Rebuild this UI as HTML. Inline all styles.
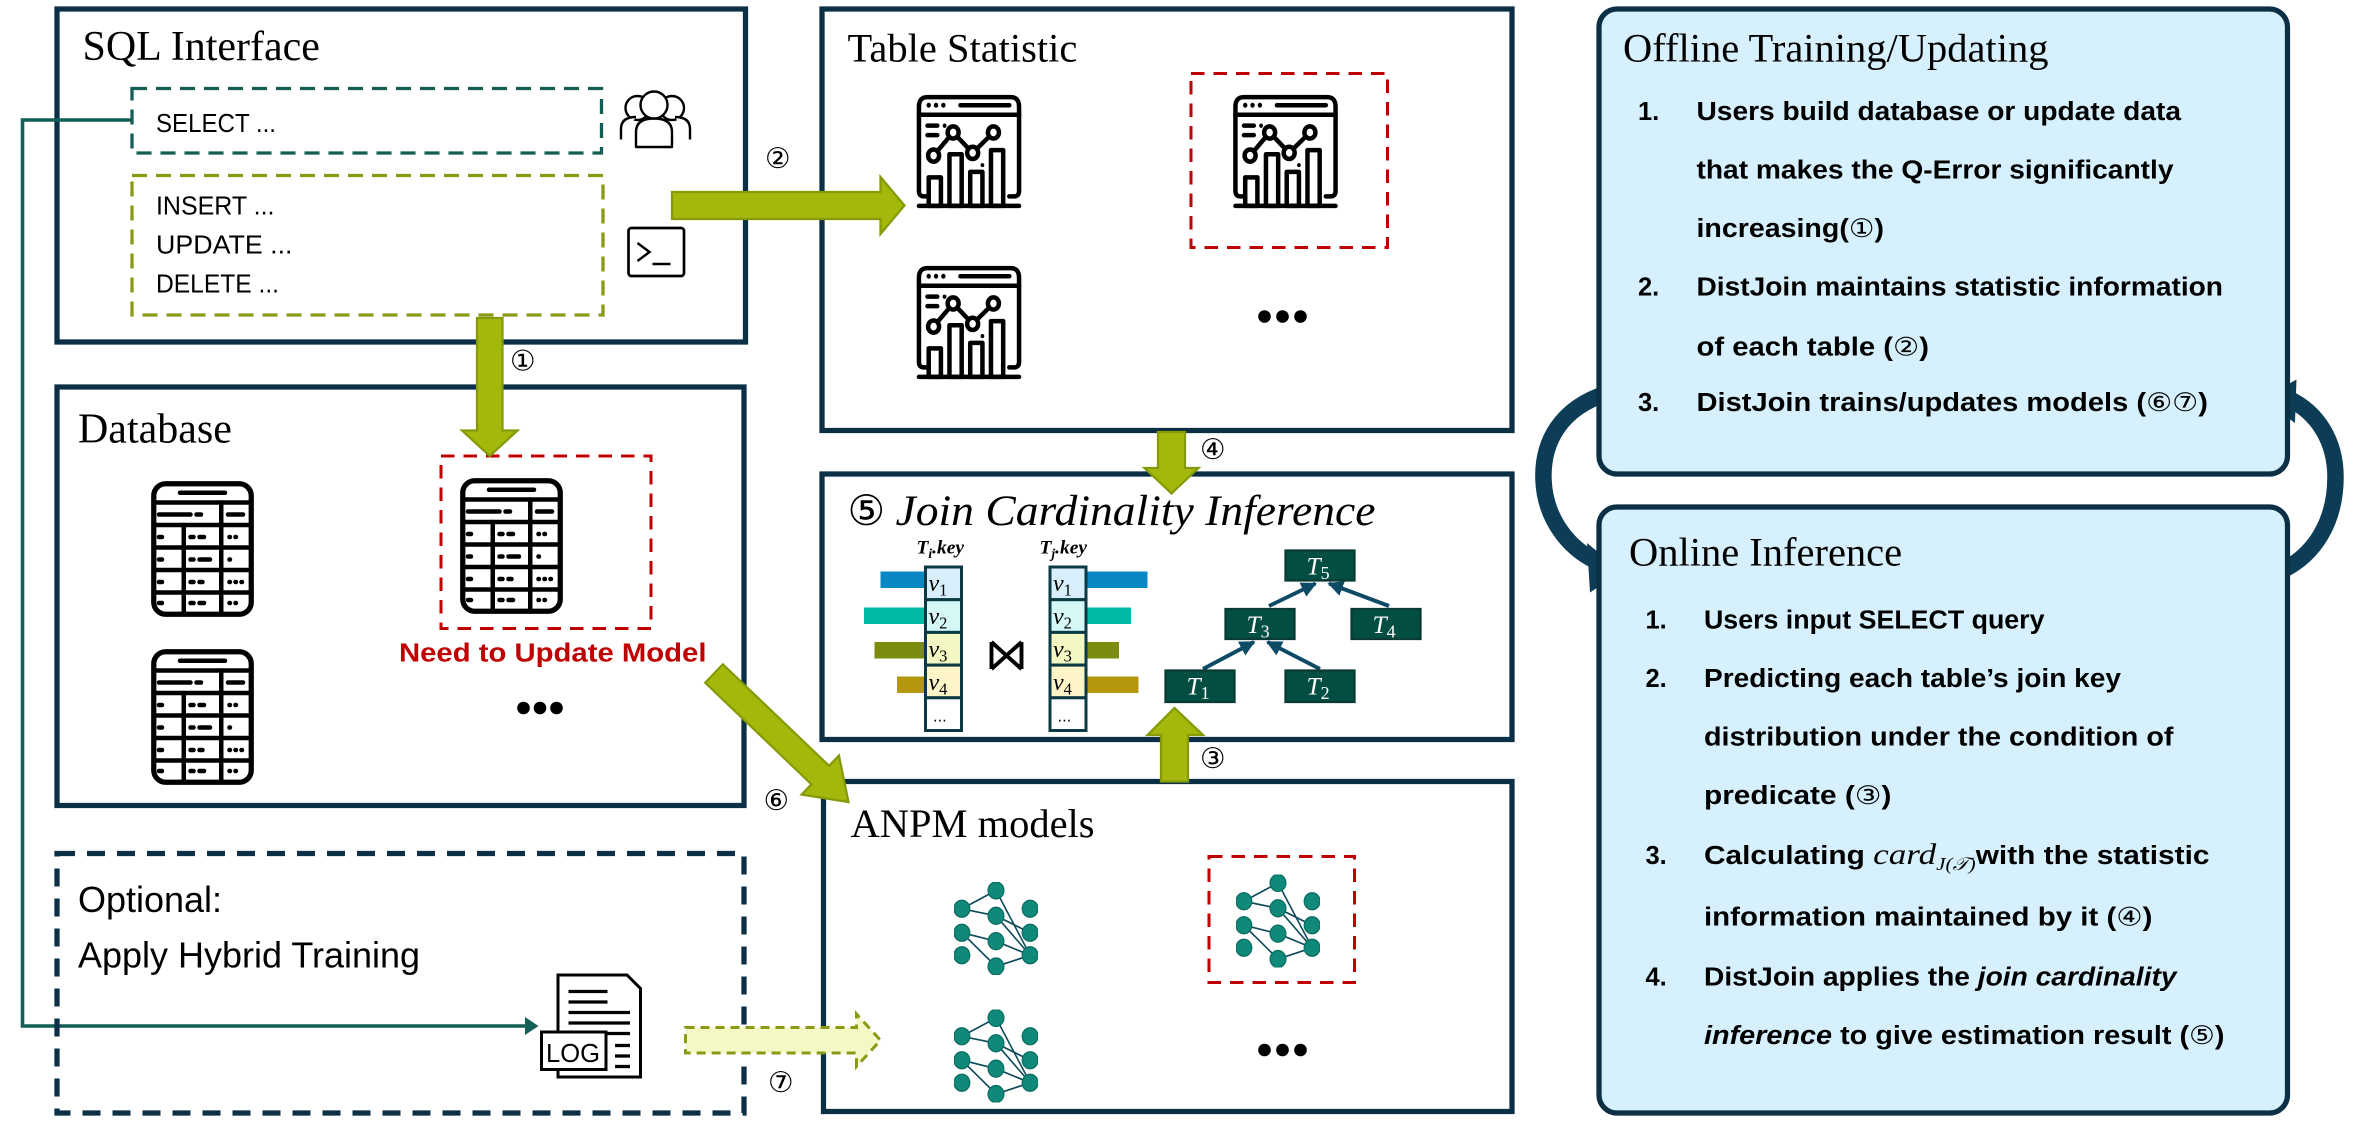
<!DOCTYPE html>
<html><head><meta charset="utf-8"><style>
html,body{margin:0;padding:0;background:#fff;}
svg{display:block;}
.serif{font-family:"Liberation Serif",serif;}
.sans{font-family:"Liberation Sans",sans-serif;}
.it{font-style:italic;}
.b{font-weight:bold;}
</style></head><body>
<svg width="2353" height="1147" viewBox="0 0 1568.67 764.67" xmlns="http://www.w3.org/2000/svg">
<defs>
<symbol id="stat" viewBox="0 0 86 86" preserveAspectRatio="none">
 <g fill="none" stroke="#000" stroke-width="4.5" vector-effect="non-scaling-stroke" stroke-linecap="round" stroke-linejoin="round">
  <path vector-effect="non-scaling-stroke" d="M10 76 H6 Q2 76 2 72 V10 Q2 3 9 3 H77 Q84 3 84 10 V72 Q84 76 80 76 H76"/>
  <line vector-effect="non-scaling-stroke" x1="2" y1="16" x2="84" y2="16"/>
  <line vector-effect="non-scaling-stroke" x1="36" y1="9" x2="76" y2="9"/>
  <line vector-effect="non-scaling-stroke" x1="2" y1="83" x2="84" y2="83"/>
  <line vector-effect="non-scaling-stroke" x1="9" y1="24" x2="17" y2="24"/><line vector-effect="non-scaling-stroke" x1="9" y1="31" x2="17" y2="31"/>
  <rect vector-effect="non-scaling-stroke" x="10" y="62" width="10" height="21"/><rect vector-effect="non-scaling-stroke" x="27" y="45" width="10" height="38"/>
  <rect vector-effect="non-scaling-stroke" x="44" y="58" width="10" height="25"/><rect vector-effect="non-scaling-stroke" x="61" y="42" width="10" height="41"/>
  <polyline vector-effect="non-scaling-stroke" points="14,46 30,29 46,44 63,29"/>
 </g>
 <g fill="#000"><circle cx="10" cy="9" r="1.8"/><circle cx="16" cy="9" r="1.8"/><circle cx="22" cy="9" r="1.8"/><circle cx="23" cy="24" r="1.6"/><circle cx="54" cy="53" r="1.5"/></g>
 <g fill="#fff" stroke="#000" stroke-width="4.5"><circle vector-effect="non-scaling-stroke" cx="14" cy="46" r="4.5"/><circle vector-effect="non-scaling-stroke" cx="30" cy="29" r="4.5"/><circle vector-effect="non-scaling-stroke" cx="46" cy="44" r="4.5"/><circle vector-effect="non-scaling-stroke" cx="63" cy="29" r="4.5"/></g>
</symbol>
<symbol id="tbl" viewBox="0 0 70 92">
 <g fill="none" stroke="#000" stroke-linecap="round">
  <rect x="2.5" y="2.5" width="65" height="87" rx="8" stroke-width="3.5"/>
  <g stroke-width="3">
   <line x1="2.5" y1="15" x2="67.5" y2="15"/><line x1="2.5" y1="30" x2="67.5" y2="30"/><line x1="2.5" y1="45" x2="67.5" y2="45"/><line x1="2.5" y1="60" x2="67.5" y2="60"/><line x1="2.5" y1="75" x2="67.5" y2="75"/>
   <line x1="47.5" y1="15" x2="47.5" y2="89"/><line x1="22.5" y1="30" x2="22.5" y2="89"/>
  </g>
  <g stroke-width="3">
   <line x1="20" y1="8.5" x2="50" y2="8.5"/>
   <line x1="6" y1="23" x2="27" y2="23"/><line x1="31" y1="23" x2="34" y2="23"/><line x1="52" y1="23" x2="62" y2="23"/>
   <line x1="6" y1="38" x2="8" y2="38"/><line x1="27" y1="38" x2="29" y2="38"/><line x1="33" y1="38" x2="36" y2="38"/><line x1="53" y1="38" x2="53.3" y2="38"/><line x1="57" y1="38" x2="57.3" y2="38"/>
   <line x1="6" y1="53" x2="8" y2="53"/><line x1="27" y1="53" x2="29" y2="53"/><line x1="33" y1="53" x2="40" y2="53"/><line x1="53" y1="53" x2="53.3" y2="53"/>
   <line x1="6" y1="68" x2="8" y2="68"/><line x1="27" y1="68" x2="29" y2="68"/><line x1="33" y1="68" x2="35" y2="68"/><line x1="53" y1="68" x2="53.3" y2="68"/><line x1="57" y1="68" x2="57.3" y2="68"/><line x1="61" y1="68" x2="61.3" y2="68"/>
   <line x1="6" y1="82" x2="8" y2="82"/><line x1="27" y1="82" x2="29" y2="82"/><line x1="33" y1="82" x2="36" y2="82"/><line x1="53" y1="82" x2="53.3" y2="82"/><line x1="57" y1="82" x2="57.3" y2="82"/>
  </g>
 </g>
</symbol>
<symbol id="net" viewBox="0 0 64 66" preserveAspectRatio="none">
 <g stroke="#0d4a5a" stroke-width="1.2">
  <line x1="6" y1="19" x2="32" y2="6"/><line x1="6" y1="19" x2="32" y2="24"/>
  <line x1="6" y1="36" x2="32" y2="42"/><line x1="6" y1="36" x2="32" y2="60"/>
  <line x1="32" y1="6" x2="58" y2="52"/><line x1="32" y1="24" x2="58" y2="36"/><line x1="32" y1="24" x2="58" y2="52"/>
  <line x1="32" y1="42" x2="58" y2="52"/><line x1="32" y1="60" x2="58" y2="52"/>
 </g>
 <g fill="#0f8a7a" stroke="#0c6f63" stroke-width="1">
  <ellipse cx="6" cy="19" rx="6" ry="6"/><ellipse cx="6" cy="36" rx="6" ry="6"/><ellipse cx="6" cy="52" rx="6" ry="6"/>
  <ellipse cx="32" cy="6" rx="6" ry="6"/><ellipse cx="32" cy="24" rx="6" ry="6"/><ellipse cx="32" cy="42" rx="6" ry="6"/><ellipse cx="32" cy="60" rx="6" ry="6"/>
  <ellipse cx="58" cy="19" rx="6" ry="6"/><ellipse cx="58" cy="36" rx="6" ry="6"/><ellipse cx="58" cy="52" rx="6" ry="6"/>
 </g>
</symbol>
<marker id="ta" viewBox="0 0 10 10" refX="9" refY="5" markerWidth="4" markerHeight="4" orient="auto"><path d="M0 0 L10 5 L0 10 z" fill="#0d4a66"/></marker>
</defs>

<!-- ===== SQL Interface ===== -->
<rect x="38" y="6" width="459" height="222" fill="none" stroke="#0b2f45" stroke-width="3.5"/>
<text x="55" y="40" class="serif" font-size="28">SQL Interface</text>
<rect x="88" y="59" width="313" height="43" fill="none" stroke="#135e55" stroke-width="2.2" stroke-dasharray="10,6"/>
<text x="104" y="88" class="sans" font-size="17" textLength="80" lengthAdjust="spacingAndGlyphs">SELECT ...</text>
<rect x="88" y="117" width="314" height="93" fill="none" stroke="#8a9a14" stroke-width="2.2" stroke-dasharray="10,6"/>
<text x="104" y="143" class="sans" font-size="17" textLength="79" lengthAdjust="spacingAndGlyphs">INSERT ...</text>
<text x="104" y="169" class="sans" font-size="17" textLength="91" lengthAdjust="spacingAndGlyphs">UPDATE ...</text>
<text x="104" y="195" class="sans" font-size="17" textLength="82" lengthAdjust="spacingAndGlyphs">DELETE ...</text>
<g fill="#fff" stroke="#000" stroke-width="1.6" stroke-linejoin="round">
 <circle cx="425" cy="72" r="8"/><path d="M414 93 V86 Q414 78 424 78"/>
 <circle cx="448" cy="72" r="8"/><path d="M460 93 V86 Q460 78 450 78"/>
 <path d="M424 98 V88 Q424 79 436 79 Q448 79 448 88 V98 Z"/>
 <circle cx="436" cy="70" r="9"/>
</g>
<rect x="419" y="152" width="37" height="32" rx="2" fill="none" stroke="#000" stroke-width="1.8"/>
<path d="M425 162 L433 168 L425 174 M435 176 H447" fill="none" stroke="#000" stroke-width="1.6"/>

<polyline points="88,80 15,80 15,684 352,684" fill="none" stroke="#135e55" stroke-width="2.4"/>
<path d="M350 678 L359 684 L350 690 z" fill="#135e55"/>

<!-- ===== Database ===== -->
<rect x="38" y="258" width="458" height="279" fill="none" stroke="#0b2f45" stroke-width="3.5"/>
<text x="52" y="295" class="serif" font-size="28">Database</text>
<use href="#tbl" x="100" y="320" width="70" height="92"/>
<use href="#tbl" x="100" y="432" width="70" height="92"/>
<rect x="294" y="304" width="140" height="115" fill="none" stroke="#c00000" stroke-width="2" stroke-dasharray="9,6"/>
<use href="#tbl" x="306" y="318" width="70" height="92"/>
<text x="266" y="441" class="sans b" font-size="17" fill="#c00000" textLength="205" lengthAdjust="spacingAndGlyphs">Need to Update Model</text>
<g fill="#000"><circle cx="349" cy="472" r="4.2"/><circle cx="360" cy="472" r="4.2"/><circle cx="371" cy="472" r="4.2"/></g>

<!-- ===== Optional ===== -->
<rect x="38" y="569" width="458" height="173" fill="none" stroke="#0b2f45" stroke-width="3.5" stroke-dasharray="12,8"/>
<text x="52" y="608" class="sans" font-size="24">Optional:</text>
<text x="52" y="645" class="sans" font-size="24">Apply Hybrid Training</text>
<g fill="#fff" stroke="#000" stroke-width="2">
 <path d="M372 650 H418 L427 659 V718 H372 Z"/>
 <g stroke-width="2.2"><line x1="379" y1="661" x2="405" y2="661"/><line x1="379" y1="668" x2="405" y2="668"/><line x1="379" y1="675" x2="420" y2="675"/><line x1="379" y1="682" x2="420" y2="682"/><line x1="379" y1="689" x2="420" y2="689"/><line x1="410" y1="697" x2="420" y2="697"/><line x1="410" y1="704" x2="420" y2="704"/><line x1="410" y1="711" x2="420" y2="711"/></g>
 <rect x="361" y="688" width="43" height="25"/>
</g>
<text x="364" y="708" class="sans" font-size="17" textLength="36" lengthAdjust="spacingAndGlyphs">LOG</text>

<!-- ===== Table Statistic ===== -->
<rect x="548" y="6" width="460" height="281" fill="none" stroke="#0b2f45" stroke-width="3.5"/>
<text x="565" y="41" class="serif" font-size="27">Table Statistic</text>
<use href="#stat" x="611" y="62" width="70" height="78"/>
<use href="#stat" x="611" y="176" width="70" height="78"/>
<rect x="794" y="49" width="131" height="116" fill="none" stroke="#c00000" stroke-width="2" stroke-dasharray="9,6"/>
<use href="#stat" x="822" y="62" width="70" height="78"/>
<g fill="#000"><circle cx="843" cy="211" r="4.2"/><circle cx="855" cy="211" r="4.2"/><circle cx="867" cy="211" r="4.2"/></g>

<!-- ===== Join Cardinality ===== -->
<rect x="548" y="316" width="460" height="177" fill="none" stroke="#0b2f45" stroke-width="3.5"/>
<text x="565" y="350" class="serif" font-size="28">⑤</text>
<text x="597" y="350" class="serif it" font-size="29" textLength="320" lengthAdjust="spacingAndGlyphs">Join Cardinality Inference</text>
<text x="611" y="369" class="serif it b" font-size="13">T<tspan font-size="9" dy="3">i</tspan><tspan dy="-3">.key</tspan></text>
<text x="693" y="369" class="serif it b" font-size="13">T<tspan font-size="9" dy="3">j</tspan><tspan dy="-3">.key</tspan></text>
<rect x="587" y="381" width="30" height="11" fill="#0a88c4"/>
<rect x="576" y="405" width="41" height="11" fill="#00b9a7"/>
<rect x="583" y="428" width="34" height="11" fill="#7d8c0f"/>
<rect x="598" y="451" width="19" height="11" fill="#b5970b"/>
<rect x="723" y="381" width="42" height="11" fill="#0a88c4"/>
<rect x="723" y="405" width="31" height="11" fill="#00b9a7"/>
<rect x="723" y="428" width="23" height="11" fill="#7d8c0f"/>
<rect x="723" y="451" width="36" height="11" fill="#b5970b"/>
<g stroke="#0b3a45" stroke-width="2">
 <rect x="617" y="378" width="24" height="21.8" fill="#d6effb"/>
 <rect x="617" y="399.8" width="24" height="21.8" fill="#d5f8f6"/>
 <rect x="617" y="421.6" width="24" height="21.8" fill="#f3f8c2"/>
 <rect x="617" y="443.4" width="24" height="21.8" fill="#fdf4c8"/>
 <rect x="617" y="465.2" width="24" height="21.8" fill="#fff"/>
 <rect x="700" y="378" width="24" height="21.8" fill="#d6effb"/>
 <rect x="700" y="399.8" width="24" height="21.8" fill="#d5f8f6"/>
 <rect x="700" y="421.6" width="24" height="21.8" fill="#f3f8c2"/>
 <rect x="700" y="443.4" width="24" height="21.8" fill="#fdf4c8"/>
 <rect x="700" y="465.2" width="24" height="21.8" fill="#fff"/>
</g>
<g class="serif it" font-size="16">
 <text x="619" y="394">v<tspan font-size="11" dy="3" font-style="normal">1</tspan></text>
 <text x="619" y="416">v<tspan font-size="11" dy="3" font-style="normal">2</tspan></text>
 <text x="619" y="438">v<tspan font-size="11" dy="3" font-style="normal">3</tspan></text>
 <text x="619" y="460">v<tspan font-size="11" dy="3" font-style="normal">4</tspan></text>
 <text x="702" y="394">v<tspan font-size="11" dy="3" font-style="normal">1</tspan></text>
 <text x="702" y="416">v<tspan font-size="11" dy="3" font-style="normal">2</tspan></text>
 <text x="702" y="438">v<tspan font-size="11" dy="3" font-style="normal">3</tspan></text>
 <text x="702" y="460">v<tspan font-size="11" dy="3" font-style="normal">4</tspan></text>
</g>
<text x="622" y="481" class="sans" font-size="11">...</text>
<text x="705" y="481" class="sans" font-size="11">...</text>
<path d="M661 428 L681 446 M661 446 L681 428 M661 428 V446 M681 428 V446" fill="none" stroke="#000" stroke-width="2.6"/>
<g stroke="#0d4a66" stroke-width="2.6" marker-end="url(#ta)">
 <line x1="846" y1="404" x2="877" y2="389"/>
 <line x1="926" y1="404" x2="886" y2="389"/>
 <line x1="802" y1="446" x2="836" y2="428"/>
 <line x1="880" y1="446" x2="845" y2="428"/>
</g>
<g fill="#034e43" stroke="#0a3a33" stroke-width="1.5">
 <rect x="857" y="367" width="46" height="20"/><rect x="817" y="406" width="46" height="20"/><rect x="901" y="406" width="46" height="20"/>
 <rect x="777" y="447" width="46" height="21"/><rect x="857" y="447" width="46" height="21"/>
</g>
<g class="serif it" font-size="17" fill="#fff">
 <text x="871" y="383">T<tspan font-size="12" dy="3" font-style="normal">5</tspan></text>
 <text x="831" y="422">T<tspan font-size="12" dy="3" font-style="normal">3</tspan></text>
 <text x="915" y="422">T<tspan font-size="12" dy="3" font-style="normal">4</tspan></text>
 <text x="791" y="463">T<tspan font-size="12" dy="3" font-style="normal">1</tspan></text>
 <text x="871" y="463">T<tspan font-size="12" dy="3" font-style="normal">2</tspan></text>
</g>

<!-- ===== ANPM ===== -->
<rect x="549" y="521" width="459" height="220" fill="none" stroke="#0b2f45" stroke-width="3.5"/>
<text x="567" y="558" class="serif" font-size="27">ANPM models</text>
<use href="#net" x="636" y="588" width="56" height="62"/>
<use href="#net" x="636" y="673" width="56" height="62"/>
<rect x="806" y="571" width="97" height="84" fill="none" stroke="#c00000" stroke-width="2" stroke-dasharray="9,6"/>
<use href="#net" x="824" y="583" width="56" height="62"/>
<g fill="#000"><circle cx="843" cy="700" r="4.2"/><circle cx="855" cy="700" r="4.2"/><circle cx="867" cy="700" r="4.2"/></g>

<!-- ===== green arrows ===== -->
<g fill="#a4b80c" stroke="#869a08" stroke-width="1.5" stroke-linejoin="miter">
 <path d="M318 212 H335 V287 H345 L326.5 304 L308 287 H318 Z"/>
 <path d="M448 128 H587 V118 L603 137 L587 156 V146 H448 Z"/>
 <path d="M772 288 H790 V312 H799 L781 329 L763 312 H772 Z"/>
 <path d="M774 521 V490 H765 L783 472 L802 490 H792 V521 Z"/>
 <g transform="translate(476,449) rotate(43.7)"><path d="M0 -8.5 H98 V-18 L124 0 L98 18 V8.5 H0 Z"/></g>
</g>
<path d="M457 685 H571 V676 L587 693.5 L571 711 V702 H457 Z" fill="#f3f8c4" stroke="#8a9a14" stroke-width="2" stroke-dasharray="6,4"/>

<g class="serif" font-size="19">
 <text x="340" y="247">①</text>
 <text x="510" y="112">②</text>
 <text x="800" y="306">④</text>
 <text x="800" y="512">③</text>
 <text x="509" y="540">⑥</text>
 <text x="512" y="728">⑦</text>
</g>

<!-- ===== Right panels ===== -->
<g fill="none" stroke="#0d3d56" stroke-linecap="butt">
 <path d="M1072 262 C1040 272 1028 295 1029 320 C1030 345 1045 365 1064 374" stroke-width="11"/>
 <path d="M1515 383 C1545 372 1557 345 1557 318 C1557 294 1545 275 1526 266" stroke-width="11"/>
</g>
<path d="M1058 362 L1081 381 L1060 395 Z" fill="#0d3d56"/>
<path d="M1531 253 L1508 266 L1530 282 Z" fill="#0d3d56"/>
<rect x="1066" y="6" width="459" height="310" rx="12" fill="#d6f0fd" stroke="#0b2f45" stroke-width="3.5"/>
<rect x="1066" y="338" width="459" height="404" rx="12" fill="#d6f0fd" stroke="#0b2f45" stroke-width="3.5"/>

<text x="1082" y="41" class="serif" font-size="27">Offline Training/Updating</text>
<g class="sans b" font-size="17">
 <text x="1092" y="80">1.</text>
 <text x="1131" y="80" textLength="323" lengthAdjust="spacingAndGlyphs">Users build database or update data</text>
 <text x="1131" y="119" textLength="318" lengthAdjust="spacingAndGlyphs">that makes the Q-Error significantly</text>
 <text x="1131" y="158" textLength="125" lengthAdjust="spacingAndGlyphs">increasing(<tspan font-weight="normal">①</tspan>)</text>
 <text x="1092" y="197">2.</text>
 <text x="1131" y="197" textLength="351" lengthAdjust="spacingAndGlyphs">DistJoin maintains statistic information</text>
 <text x="1131" y="237" textLength="155" lengthAdjust="spacingAndGlyphs">of each table (<tspan font-weight="normal">②</tspan>)</text>
 <text x="1092" y="274">3.</text>
 <text x="1131" y="274" textLength="341" lengthAdjust="spacingAndGlyphs">DistJoin trains/updates models (<tspan font-weight="normal">⑥⑦</tspan>)</text>
</g>

<text x="1086" y="377" class="serif" font-size="27">Online Inference</text>
<g class="sans b" font-size="17">
 <text x="1097" y="419">1.</text>
 <text x="1136" y="419" textLength="227" lengthAdjust="spacingAndGlyphs">Users input SELECT query</text>
 <text x="1097" y="458">2.</text>
 <text x="1136" y="458" textLength="278" lengthAdjust="spacingAndGlyphs">Predicting each table’s join key</text>
 <text x="1136" y="497" textLength="313" lengthAdjust="spacingAndGlyphs">distribution under the condition of</text>
 <text x="1136" y="536" textLength="125" lengthAdjust="spacingAndGlyphs">predicate (<tspan font-weight="normal">③</tspan>)</text>
 <text x="1097" y="576">3.</text>
 <text x="1136" y="576" textLength="337" lengthAdjust="spacingAndGlyphs">Calculating <tspan class="serif it" font-weight="normal" font-size="20">card</tspan><tspan class="serif it" font-weight="normal" font-size="12" dy="4">J(𝒯)</tspan><tspan dy="-4">with the statistic</tspan></text>
 <text x="1136" y="617" textLength="299" lengthAdjust="spacingAndGlyphs">information maintained by it (<tspan font-weight="normal">④</tspan>)</text>
 <text x="1097" y="657">4.</text>
 <text x="1136" y="657" textLength="315" lengthAdjust="spacingAndGlyphs">DistJoin applies the <tspan font-style="italic">join cardinality</tspan></text>
 <text x="1136" y="696" textLength="347" lengthAdjust="spacingAndGlyphs"><tspan font-style="italic">inference</tspan> to give estimation result (<tspan font-weight="normal">⑤</tspan>)</text>
</g>
</svg>
</body></html>
